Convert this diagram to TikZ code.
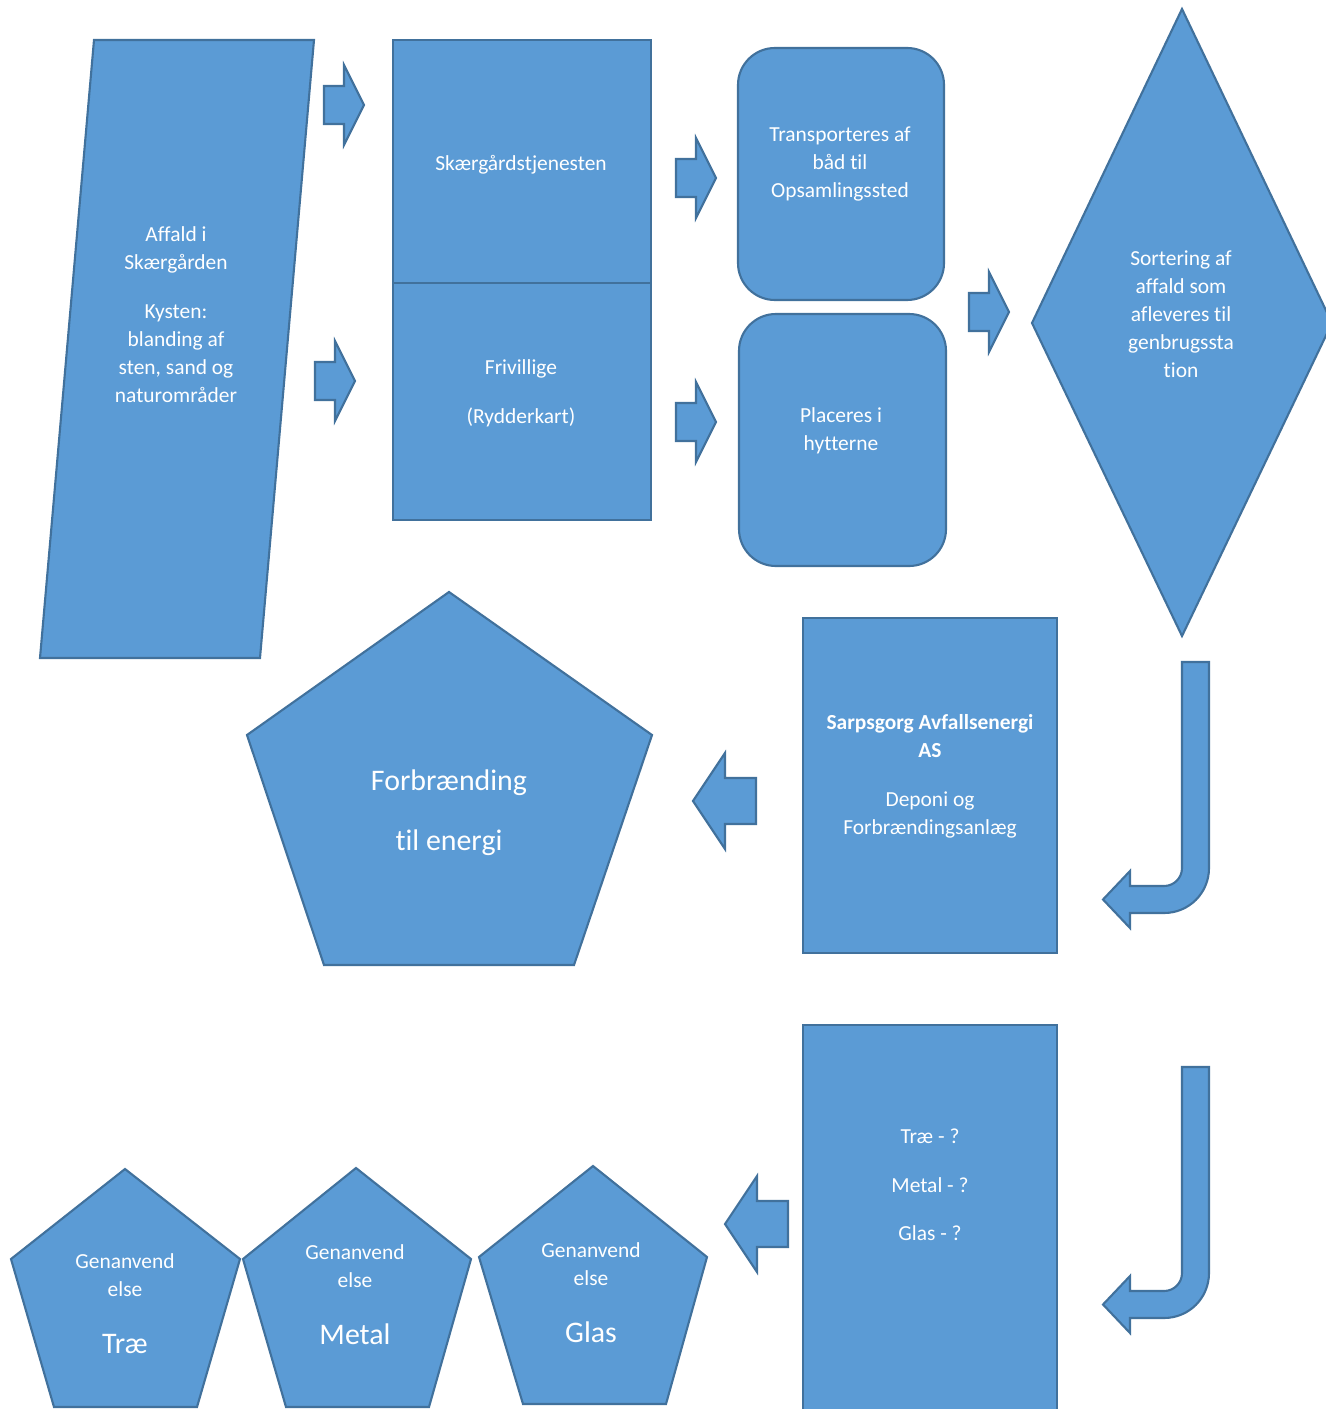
\documentclass[tikz,border=0pt]{standalone}
\usepackage{fontspec}
\setmainfont{Carlito}[Ligatures=NoCommon]
\usepackage{tikz}
\usetikzlibrary{positioning,fit}
\definecolor{boxblue}{HTML}{5B9BD5}
\definecolor{edgeblue}{HTML}{41719C}

\begin{document}
\begin{tikzpicture}[
    x=0.02cm, y=-0.02cm,
    shp/.style={draw=edgeblue, fill=boxblue, line width=1.2pt},
    box/.style={shp, rectangle, inner sep=0pt},
    rbox/.style={box, rounded corners=21pt},
    txt/.style={text=white, align=center, font=\fontsize{12.2}{15.9}\selectfont},
    bigtxt/.style={text=white, align=center, font=\fontsize{17}{22}\selectfont},
    rarrow/.pic={\draw[shp] (0,-19) -- (20,-19) -- (20,-40) -- (40,0) -- (20,40) -- (20,19) -- (0,19) -- cycle;},
    larrow/.pic={\draw[shp] (0,-23) -- (-31,-23) -- (-31,-48) -- (-63,0) -- (-31,48) -- (-31,23) -- (0,23) -- cycle;},
    barrow/.pic={\draw[shp] (0,0) -- (27,0) -- (27,206) .. controls (27,231) and (7,251) .. (-18,251)
        -- (-52,251) -- (-52,266) -- (-79,237.5) -- (-52,209) -- (-52,224) -- (-18,224)
        .. controls (-8,224) and (0,216) .. (0,206) -- cycle;}
]
\path[use as bounding box, fill=white] (0,0) rectangle (1325,1409);

\draw[shp] (94,40) -- (314,40) -- (260,658) -- (40,658) -- cycle;
\node[txt] (affald) at (176,315) {Affald i\\Skærgården\\[12pt]Kysten:\\blanding af\\sten, sand og\\naturområder};

\node[box, fit={(393,40) (651,283)}] (skaer) {};
\node[txt] (skaertxt) at (521,165) {Skærgårdstjenesten};
\node[box, fit={(393,283) (651,520)}] (friv) {};
\node[txt] (frivtxt) at (521,393) {Frivillige\\[12pt](Rydderkart)};

\node[rbox, fit={(738,48) (944,300)}] (transp) {};
\node[txt] (transptxt) at (840,164) {Transporteres af\\båd til\\Opsamlingssted};
\node[rbox, fit={(739,314) (946,566)}] (hytter) {};
\node[txt] (hyttertxt) at (841,431) {Placeres i\\hytterne};

\draw[shp] (1182,9) -- (1332,323) -- (1182,636) -- (1032,323) -- cycle;
\node[txt] (sort) at (1181,314) {Sortering af\\affald som\\afleveres til\\genbrugssta\\tion};

\pic at (324,105) {rarrow};
\pic at (315,381) {rarrow};
\pic at (676,178) {rarrow};
\pic at (676,422) {rarrow};
\pic at (969,312) {rarrow};

\node[box, fit={(803,618) (1057,953)}] (sarps) {};
\node[txt] (sarpstxt) at (930,776) {\textbf{Sarpsgorg Avfallsenergi}\\\textbf{AS}\\[12pt]Deponi og\\Forbrændingsanlæg};
\pic at (1182,662) {barrow};
\pic at (756,801) {larrow};

\draw[shp] (449,592) -- (652,735) -- (574,965) -- (324,965) -- (247,735) -- cycle;
\node[bigtxt] (forbr) at (449,813) {Forbrænding\\[12pt]til energi};

\node[box, fit={(803,1025) (1057,1430)}] (sorter) {};
\node[txt] (sortertxt) at (930,1185) {Træ - ?\\[11.7pt]Metal - ?\\[11.7pt]Glas - ?};
\pic at (1182,1067) {barrow};
\pic at (788,1224) {larrow};

\draw[shp] (125,1169) -- (240,1259) -- (197,1407) -- (54,1407) -- (11,1259) -- cycle;
\node[txt] (gentrae) at (125,1275) {Genanvend\\else};
\node[bigtxt] (trae) at (125,1344) {Træ};
\draw[shp] (356,1168) -- (471,1259) -- (429,1407) -- (286,1407) -- (243,1259) -- cycle;
\node[txt] (genmetal) at (355,1266) {Genanvend\\else};
\node[bigtxt] (metal) at (355,1334) {Metal};
\draw[shp] (593,1166) -- (707,1257) -- (666,1404) -- (523,1404) -- (479,1257) -- cycle;
\node[txt] (genglas) at (591,1264) {Genanvend\\else};
\node[bigtxt] (glas) at (591,1332) {Glas};

\end{tikzpicture}
\end{document}
